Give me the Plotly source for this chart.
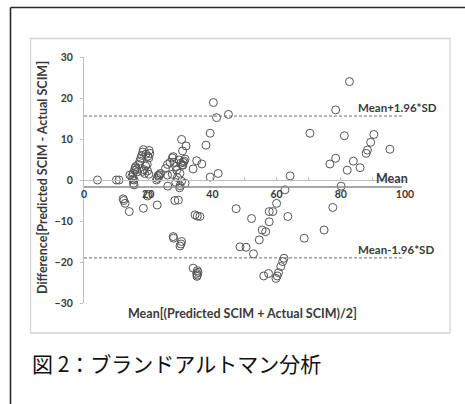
import plotly.graph_objects as go

# ---------------- data ----------------
mean_x = [
    4.2, 10.1, 10.9,
    14.3, 14.9, 15.2, 15.4, 15.6, 15.6, 15.3, 15.8, 16.1, 16.4, 16.6, 15.9, 17.0, 17.4, 17.7,
    18.0, 18.3, 18.5, 19.3, 19.9, 20.3, 20.5, 20.2, 18.7, 19.2, 19.7, 18.9, 18.2, 19.8, 20.2,
    22.6, 22.8, 23.1, 23.4, 23.9, 23.3, 25.4, 26.0, 26.8, 27.5, 28.0, 28.6, 29.6, 30.1, 30.6,
    30.9, 31.5, 30.7, 31.8, 30.4, 26.0, 27.5, 28.9, 29.9, 29.1, 28.6, 26.1, 29.9, 31.5, 29.8,
    30.4, 34.0, 35.1, 36.7, 38.0, 39.3, 40.3, 41.3, 45.0, 41.8, 39.3, 27.8, 30.8, 31.2,
    12.2, 12.4, 12.8, 14.1, 18.5, 22.8, 19.8, 20.0, 28.3, 29.4, 34.6, 35.3, 36.1, 27.8, 27.9,
    30.4, 30.2, 29.9, 34.0, 35.3, 35.1, 35.3, 35.5, 35.2,
    47.4, 52.2, 48.6, 50.5, 52.8, 54.6, 55.5, 56.6, 57.7, 57.7, 58.8, 60.0, 62.6, 63.5, 62.3,
    61.9, 61.3, 60.6, 60.2, 59.8, 57.5, 56.0, 64.2,
    68.6, 74.8, 77.5, 80.1, 82.7, 78.4, 70.4, 81.1, 90.3, 89.3, 88.3, 87.9, 95.3, 78.4, 76.6,
    83.9, 86.0, 82.0,
]
diff_y = [
    0.0, 0.0, 0.0,
    1.2, 0.8, 0.2, -0.8, -1.2, 0.0, 1.6, 2.4, 3.3, 2.6, 2.0, 2.9, 3.8, 4.6, 5.3,
    6.0, 6.8, 7.4, 6.3, 5.8, 7.2, 6.5, 5.4, 2.5, 3.4, 3.8, 1.6, 2.1, 2.2, 1.4,
    0.0, 0.4, 1.1, 1.3, 1.6, 0.8, 2.8, 3.8, 4.3, 5.4, 4.3, 3.3, 4.9, 4.1, 3.7,
    4.3, 5.1, 7.1, 8.3, 9.9, 1.2, 1.4, 2.4, 1.6, 0.6, -0.6, -1.5, -1.4, -0.8, -1.9,
    -0.3, 2.7, 4.7, 3.9, 8.5, 11.4, 18.9, 15.2, 16.0, 1.6, 0.7, 5.7, 3.6, 4.6,
    -4.6, -5.0, -5.7, -7.7, -6.9, -6.1, -3.9, -3.5, -5.0, -4.9, -8.5, -8.8, -8.9, -13.8, -14.2,
    -15.0, -15.6, -16.1, -21.5, -22.1, -22.8, -23.2, -22.5, -23.5,
    -7.0, -9.4, -16.3, -16.4, -18.0, -14.6, -12.2, -12.6, -10.2, -7.7, -7.7, -5.7, -2.4, -8.9, -19.1,
    -19.9, -21.1, -22.6, -23.4, -24.0, -22.8, -23.4, 1.0,
    -14.2, -12.2, -6.7, -1.5, 24.0, 17.1, 11.4, 10.8, 11.1, 9.2, 7.3, 6.5, 7.5, 5.3, 3.9,
    4.6, 3.0, 2.4,
]
mean_diff = -1.7
upper_loa = 15.6
lower_loa = -19.0
line_end_x = 99
label_x_loa = 84.8
label_x_mean = 90.2

x_ticks = [0, 20, 40, 60, 80, 100]
y_ticks = [-30, -20, -10, 0, 10, 20, 30]

x_title = "Mean[(Predicted SCIM + Actual SCIM)/2]"
y_title = "Difference[Predicted SCIM - Actual SCIM]"
label_upper = "Mean+1.96*SD"
label_mean = "Mean"
label_lower = "Mean-1.96*SD"
caption = "図 2：ブランドアルトマン分析"

# ---------------- layout geometry (pixels) ----------------
W, H = 465, 404
PL, PR, PT, PB = 84, 405, 57, 303  # plot area in pixels


def px(x):
    return (x - PL) / (PR - PL)


def py(y):
    return (PB - y) / (PB - PT)


FONT = "Lato, 'Open Sans', sans-serif"
TXT = "#3a3a3a"
LBL = dict(family=FONT, size=12.5, color=TXT, weight="bold")
LOA = dict(family=FONT, size=11.5, color=TXT, weight="bold")

fig = go.Figure()
fig.add_trace(go.Scatter(
    x=mean_x, y=diff_y, mode="markers",
    marker=dict(symbol="circle-open", size=8, color="#555555", line=dict(width=1, color="#555555")),
    showlegend=False, hoverinfo="x+y",
))

shapes = [
    # outer frame
    dict(type="line", xref="paper", yref="paper", x0=px(10.5), x1=px(470), y0=py(7.5), y1=py(7.5),
         line=dict(color="#2a2a2a", width=1.6)),
    dict(type="line", xref="paper", yref="paper", x0=px(10.5), x1=px(10.5), y0=py(7.5), y1=py(410),
         line=dict(color="#2a2a2a", width=1.6)),
    # inner chart panel border
    dict(type="rect", xref="paper", yref="paper", x0=px(30.5), x1=px(450), y0=py(38.5), y1=py(333),
         line=dict(color="#d4d4d4", width=1.3), fillcolor="rgba(0,0,0,0)", layer="below"),
    # mean and limits of agreement
    dict(type="line", xref="x", yref="y", x0=0, x1=line_end_x, y0=mean_diff, y1=mean_diff,
         line=dict(color="#8a8a8a", width=1.6)),
    dict(type="line", xref="x", yref="y", x0=0, x1=line_end_x, y0=upper_loa, y1=upper_loa,
         line=dict(color="#6f6f6f", width=1, dash="3px,2px")),
    dict(type="line", xref="x", yref="y", x0=0, x1=line_end_x, y0=lower_loa, y1=lower_loa,
         line=dict(color="#6f6f6f", width=1, dash="3px,2px")),
]

annotations = [
    dict(text=label_upper, x=label_x_loa, y=upper_loa, xref="x", yref="y", xanchor="left", yanchor="bottom",
         yshift=0, showarrow=False, font=LOA),
    dict(text=label_mean, x=label_x_mean, y=mean_diff, xref="x", yref="y", xanchor="left", yanchor="bottom",
         yshift=-1, showarrow=False, font=LBL),
    dict(text=label_lower, x=label_x_loa, y=lower_loa, xref="x", yref="y", xanchor="left", yanchor="bottom",
         yshift=0, showarrow=False, font=LOA),
    dict(text=x_title, x=px(242), y=py(313), xref="paper", yref="paper", xanchor="center", yanchor="middle",
         showarrow=False, font=LBL),
    dict(text=y_title, x=px(42), y=py(178), xref="paper", yref="paper", xanchor="center", yanchor="middle",
         textangle=-90, showarrow=False, font=LBL),
    dict(text=caption, x=px(30), y=py(363), xref="paper", yref="paper", xanchor="left", yanchor="middle",
         showarrow=False, font=dict(family="'Noto Sans CJK JP', sans-serif", size=21, color="#111111")),
]

fig.update_layout(
    width=W, height=H,
    margin=dict(l=PL, r=W - PR, t=PT, b=H - PB, pad=0),
    paper_bgcolor="white", plot_bgcolor="white",
    shapes=shapes, annotations=annotations,
    xaxis=dict(
        range=[0, 100], anchor="free", position=py(180), tickvals=x_ticks,
        showgrid=False, zeroline=False, showline=True, linecolor="#bfbfbf", linewidth=1,
        ticks="inside", ticklen=3, tickcolor="#bfbfbf", ticklabelstandoff=4,
        minor=dict(dtick=10, ticks="inside", ticklen=3, tickcolor="#bfbfbf"),
        tickfont=dict(family=FONT, size=10.5, color=TXT, weight="bold"),
    ),
    yaxis=dict(
        range=[-30, 30], tickvals=y_ticks,
        showgrid=False, zeroline=False, showline=True, linecolor="#bfbfbf", linewidth=1,
        ticks="outside", ticklen=3, tickcolor="#bfbfbf", ticklabelstandoff=5,
        tickfont=dict(family=FONT, size=10.5, color=TXT, weight="bold"),
    ),
)

fig.write_html("out.html")
